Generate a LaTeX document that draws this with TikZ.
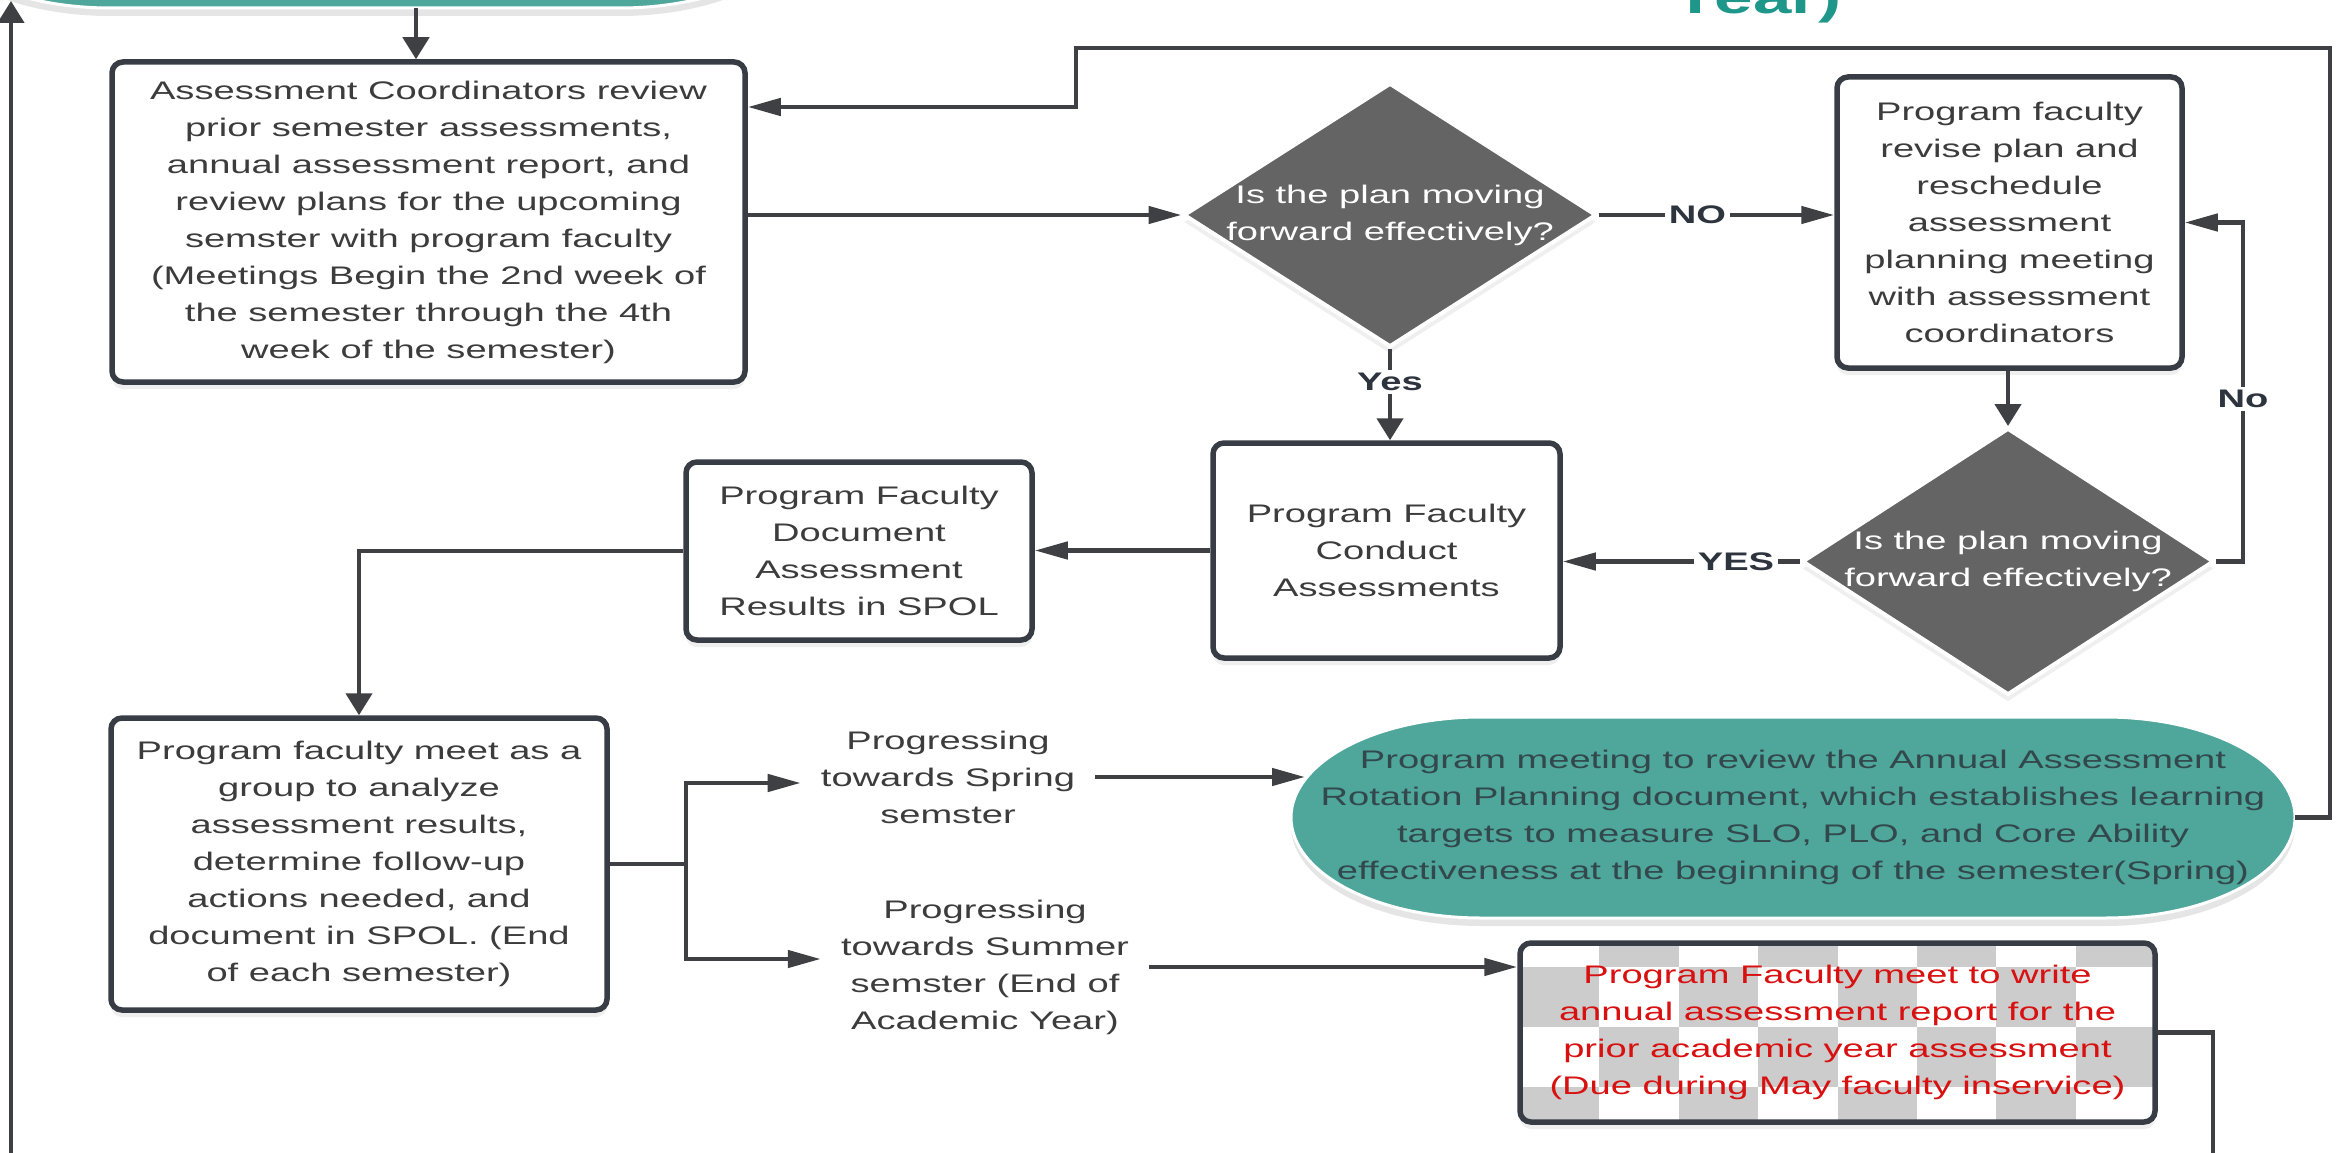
\documentclass[tikz,border=0pt]{standalone}
\usepackage{fontspec}
\setmainfont{Liberation Sans}[FakeStretch=1.5]
\usetikzlibrary{arrows.meta,shapes.geometric,shadows}

\definecolor{ink}{RGB}{62,64,68}
\definecolor{bord}{RGB}{56,61,69}
\definecolor{txt}{RGB}{60,60,60}
\definecolor{dia}{RGB}{100,100,100}
\definecolor{tealc}{RGB}{79,166,155}
\definecolor{tealtxt}{RGB}{50,72,76}
\definecolor{redtxt}{RGB}{216,16,16}
\definecolor{checkg}{RGB}{204,204,204}
\definecolor{titlec}{RGB}{30,150,138}
\definecolor{lblc}{RGB}{45,52,62}

\newcommand{\tealblob}[5]{%
  \fill[black,opacity=0.10] (#1+190,#2+8) -- (#3-190,#2+8) arc[start angle=-90,end angle=90,x radius=190,y radius=#5] -- (#1+190,#4+8) arc[start angle=90,end angle=270,x radius=190,y radius=#5] -- cycle;
  \path[tealshape] (#1+190,#2) -- (#3-190,#2) arc[start angle=-90,end angle=90,x radius=190,y radius=#5] -- (#1+190,#4) arc[start angle=90,end angle=270,x radius=190,y radius=#5] -- cycle;}

\begin{document}
\begin{tikzpicture}[x=1pt,y=-1pt,
  every node/.style={font=\fontsize{25.4}{37}\selectfont},
  box/.style={draw=bord, line width=5.5pt, rounded corners=11pt, fill=white, text=txt, align=center, inner sep=0pt,
    drop shadow={opacity=0.12, shadow xshift=0pt, shadow yshift=-7pt}},
  dec/.style={shape=diamond, draw=white, line width=4pt, fill=dia, inner sep=0pt,
    drop shadow={opacity=0.12, shadow xshift=0pt, shadow yshift=-7pt}},
  dtext/.style={text=white, align=center, inner sep=0pt},
  conn/.style={draw=ink, line width=4.5pt},
  harr/.style={conn, -{Triangle[length=33pt,width=17pt]}},
  varr/.style={conn, -{Triangle[length=22pt,width=26pt]}},
  lbl/.style={font=\fontsize{25.4}{30}\selectfont\bfseries, text=lblc, fill=white, inner xsep=4pt, inner ysep=3pt},
  side/.style={text=txt, align=center, inner xsep=20pt, inner ysep=0pt},
  tealshape/.style={fill=tealc, draw=white, line width=3pt},
  checker/.style={path picture={%
    \foreach \i in {0,...,7}{\foreach \j in {0,...,3}{%
      \pgfmathtruncatemacro{\cellpar}{\i+\j}%
      \ifodd\cellpar\relax
        \fill[checkg, sharp corners] ([shift={({79.4*\i},{-36+60*\j})}]path picture bounding box.north west) rectangle ++(79.4,60);
      \fi}}}},
]
\useasboundingbox (0,0) rectangle (2339,1153);
\clip (0,0) rectangle (2339,1153);
\fill[white] (0,0) rectangle (2339,1153);

% title fragment
\node[font=\fontsize{46}{46}\selectfont\bfseries, text=titlec, anchor=base, inner sep=0pt] (title) at (1757,14) {Year)};

% teal terminators
\tealblob{-80}{-193}{810}{8}{100.5}
\node[inner sep=0pt, minimum width=890pt, minimum height=201pt] (topn) at (365,-92.5) {};
\tealblob{1291}{717}{2295}{918}{100.5}
\node[text=tealtxt, align=center, inner sep=0pt, minimum width=1004pt, minimum height=201pt] (ell) at (1793,817.5)
  {Program meeting to review the Annual Assessment\\Rotation Planning document, which establishes learning\\targets to measure SLO, PLO, and Core Ability\\effectiveness at the beginning of the semester(Spring)};

% boxes
\node[box, minimum width=633pt, minimum height=320pt] (b1) at (428.5,222)
  {Assessment Coordinators review\\prior semester assessments,\\annual assessment report, and\\review plans for the upcoming\\semster with program faculty\\(Meetings Begin the 2nd week of\\the semester through the 4th\\week of the semester)};
\node[box, minimum width=345pt, minimum height=291pt] (b2) at (2009.5,222.5)
  {Program faculty\\revise plan and\\reschedule\\assessment\\planning meeting\\with assessment\\coordinators};
\node[dec, minimum width=413pt, minimum height=264pt] (d1) at (1390,215) {};
\node[dtext] (d1t) at (d1.center) {Is the plan moving\\forward effectively?};
\node[box, minimum width=347pt, minimum height=215pt] (b3) at (1386.5,550.5)
  {Program Faculty\\Conduct\\Assessments};
\node[dec, minimum width=412pt, minimum height=267pt] (d2) at (2008,561.5) {};
\node[dtext] (d2t) at (d2.center) {Is the plan moving\\forward effectively?};
\node[box, minimum width=346pt, minimum height=178pt] (b4) at (859,551)
  {Program Faculty\\Document\\Assessment\\Results in SPOL};
\node[box, minimum width=496pt, minimum height=292pt] (b5) at (359,864)
  {Program faculty meet as a\\group to analyze\\assessment results,\\determine follow-up\\actions needed, and\\document in SPOL. (End\\of each semester)};
\node[box, checker, text=redtxt, minimum width=635pt, minimum height=179pt] (b6) at (1837.5,1032.5)
  {Program Faculty meet to write\\annual assessment report for the\\prior academic year assessment\\(Due during May faculty inservice)};

\node[side] (lab1) at (948,777) {Progressing\\towards Spring\\semster};
\node[side] (lab2) at (985,967) {Progressing\\towards Summer\\semster (End of\\Academic Year)};

% coordinates
\coordinate (ax) at (416,0);
\coordinate (lbot) at (11,1170);
\coordinate (ltop) at (11,1);
\coordinate (br) at (686,864);
\coordinate (ellin) at (1305,777);
\coordinate (bbot) at (2213,1170);

% connectors
\draw[varr] (topn.south -| ax) -- (b1.north -| ax);
\draw[varr] (lbot) -- (ltop);
\draw[harr] (d1.west -| b1.east) -- (d1.west);
\draw[harr] (ell.east) -- ++(35,0) |- (1076,48) |- ([yshift=115pt]b1.east);
\draw[harr] (d1.east) -- node[lbl, pos=0.42]{NO} (d1.east -| b2.west);
\draw[varr] (d1.south) -- node[lbl, pos=0.36]{Yes} (d1.south |- b3.north);
\draw[varr] (b2.south -| d2.north) -- (d2.north);
\draw[harr] (d2.east) -- ++(27,0) -- node[lbl, pos=0.48]{No} ++(0,-339) -- (b2.east);
\draw[harr] (d2.west) -- node[lbl, pos=0.27]{YES} (d2.west -| b3.east);
\draw[harr] (b3.west) -- (b3.west -| b4.east);
\draw[varr] (b4.west) -| (b5.north);
\draw[conn] (b5.east) -- (br);
\draw[harr] (br) |- ([yshift=-6pt]lab1.west);
\draw[harr] (br) |- ([yshift=8pt]lab2.west);
\draw[harr] (lab1.east) -- (ellin);
\draw[harr] (lab2.east) -- (lab2.east -| b6.west);
\draw[conn] (b6.east) -| (bbot);
\end{tikzpicture}
\end{document}
